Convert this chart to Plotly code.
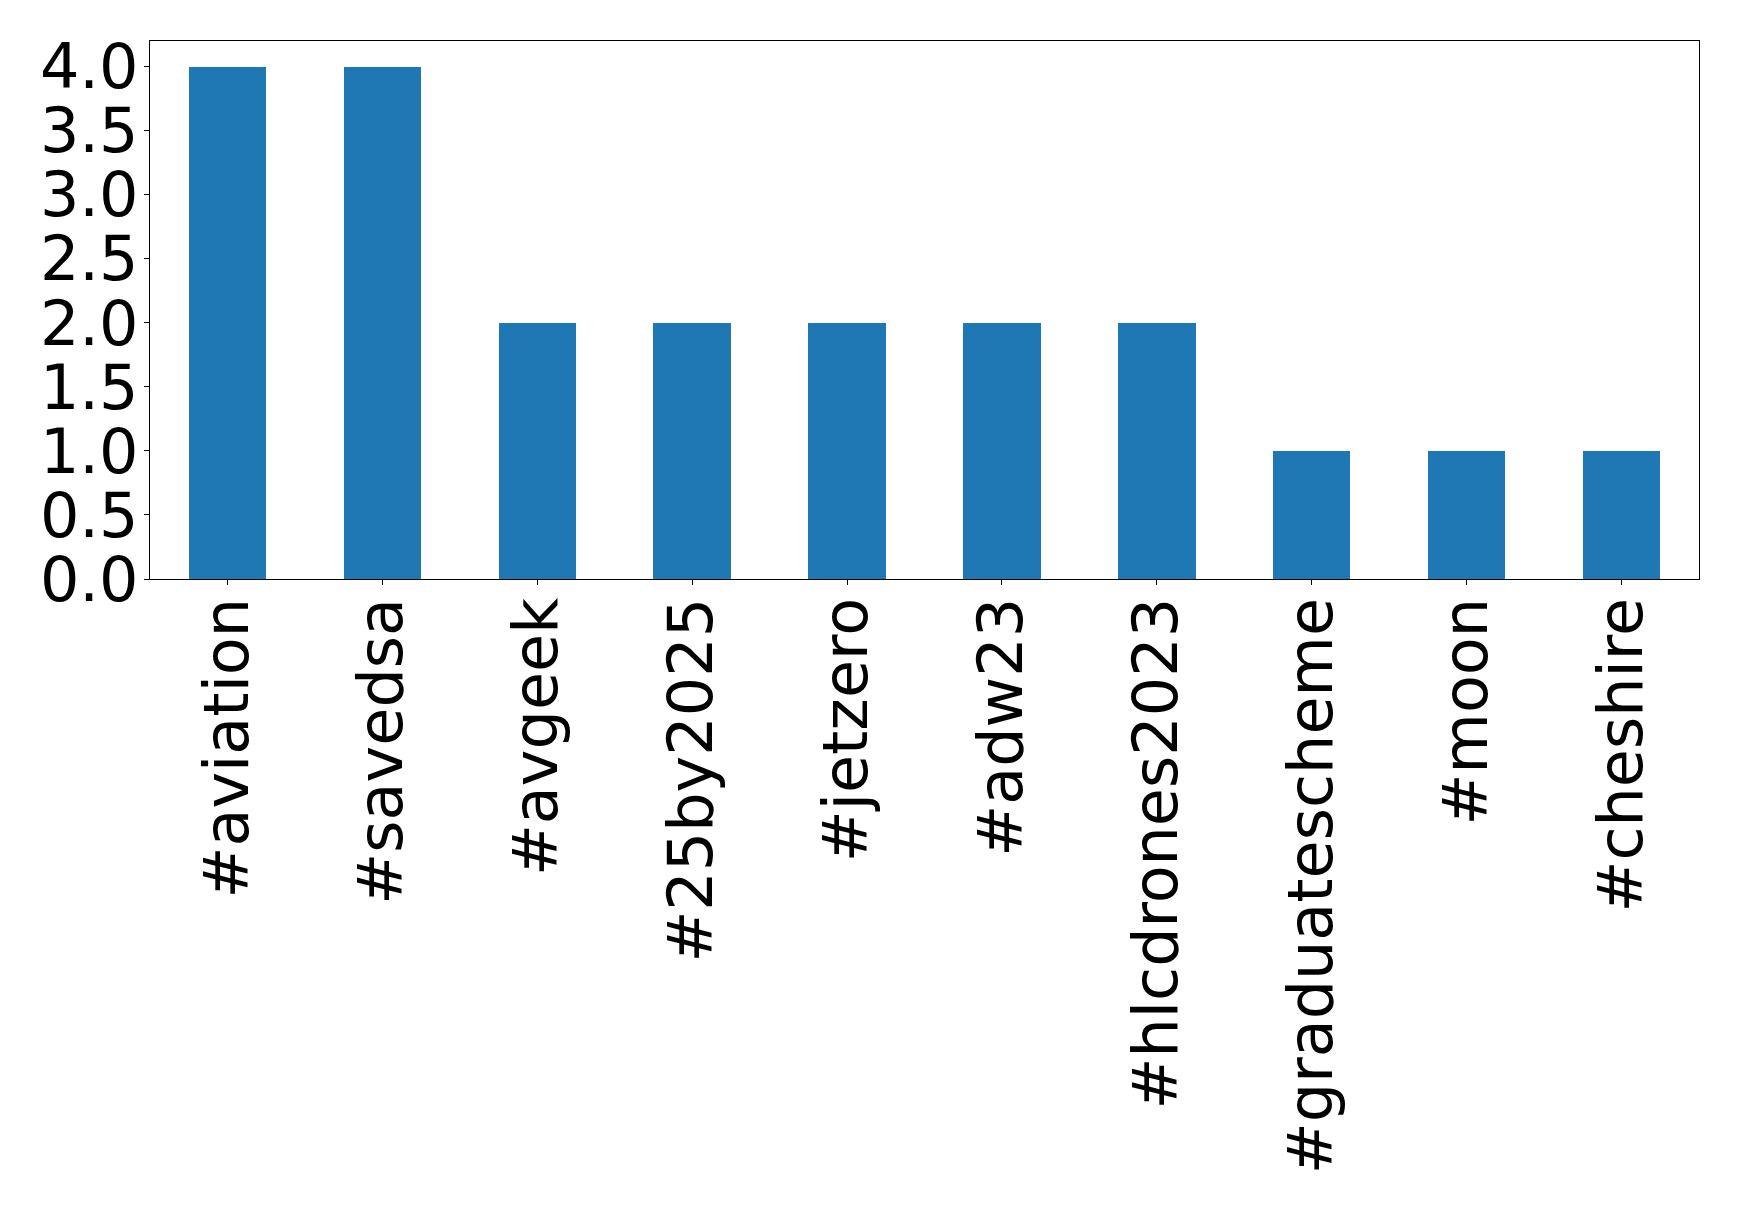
import plotly.graph_objects as go

categories = ["#aviation", "#savedsa", "#avgeek", "#25by2025", "#jetzero", "#adw23",
              "#hlcdrones2023", "#graduatescheme", "#moon", "#cheshire"]
counts = [4, 4, 2, 2, 2, 2, 2, 1, 1, 1]
ytick_vals = [0.0, 0.5, 1.0, 1.5, 2.0, 2.5, 3.0, 3.5, 4.0]
ytick_text = ["0.0", "0.5", "1.0", "1.5", "2.0", "2.5", "3.0", "3.5", "4.0"]

W, H = 1739, 1209
# page body has an 8px margin, so offset the plot area accordingly
L, R, T, B = 141.5, 1691, 32.5, 571

fig = go.Figure(go.Bar(
    x=list(range(len(categories))), y=counts, width=0.5,
    marker=dict(color="#1f77b4", line=dict(width=0)),
))

font = dict(family="DejaVu Sans", size=62, color="black")
fig.update_layout(
    width=W, height=H, autosize=False,
    margin=dict(l=L, r=W - R, t=T, b=H - B, pad=0),
    paper_bgcolor="white", plot_bgcolor="white",
    showlegend=False, bargap=0,
)
fig.update_xaxes(
    range=[-0.5, 9.5], tickmode="array",
    tickvals=list(range(len(categories))), ticktext=categories,
    tickangle=-90, tickfont=font, ticks="outside", ticklen=5, tickwidth=1.2,
    tickcolor="black", showline=True, linecolor="black", linewidth=1.2,
    mirror=True, showgrid=False, zeroline=False, ticklabelstandoff=-12,
)
fig.update_yaxes(
    range=[0, 4.2], tickmode="array", tickvals=ytick_vals, ticktext=ytick_text,
    tickfont=font, ticks="outside", ticklen=5, tickwidth=1.2, tickcolor="black",
    showline=True, linecolor="black", linewidth=1.2, mirror=True,
    showgrid=False, zeroline=False, ticklabelstandoff=-7,
)

fig.write_html("out.html")
